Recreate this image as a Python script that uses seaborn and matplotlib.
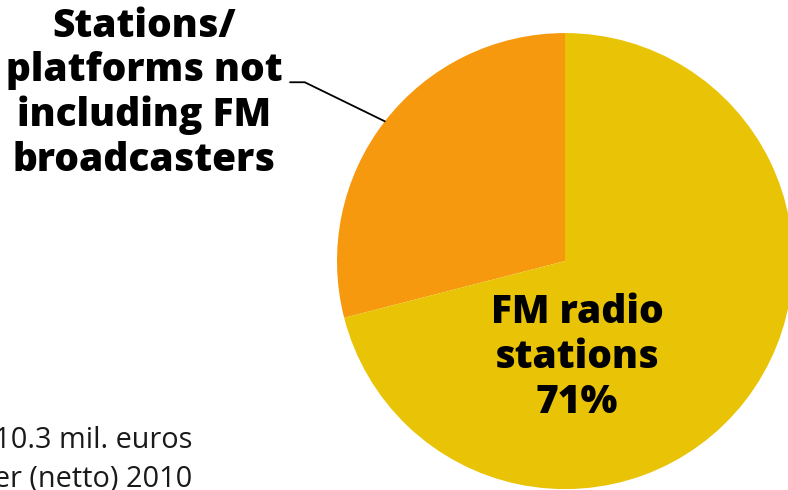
import numpy as np
import matplotlib
matplotlib.use("Agg")
import matplotlib.pyplot as plt
import seaborn as sns

# shares of turnover (netto) 2010
segments = ["Stations/\nplatforms not\nincluding FM\nbroadcasters", "FM radio\nstations"]
shares = [29, 71]
colors = ["#F6990F", "#E9C305"]
note_lines = ["Total: 10.3 mil. euros", "Turnover (netto) 2010"]

sns.set_theme(style="white")
plt.rcParams["font.family"] = ["Open Sans", "DejaVu Sans"]

fig = plt.figure(figsize=(7.88, 4.90), dpi=100)
ax = fig.add_axes([0, 0, 1, 1])

wedges, _ = ax.pie(shares, colors=colors, startangle=90, counterclock=True,
                   radius=1.0, wedgeprops=dict(linewidth=0))
ax.set_aspect("auto")
ax.set_xlim(-2.478, 0.978)
ax.set_ylim(-1.004, 1.145)
ax.axis("off")

# label with leader line for the small wedge
w = wedges[0]
mid = np.deg2rad((w.theta1 + w.theta2) / 2)
ax.annotate(segments[0], xy=(np.cos(mid), np.sin(mid)), xytext=(-1.845, 0.735),
            ha="center", va="center", fontsize=28, fontweight="heavy",
            linespacing=1.18, color="black",
            arrowprops=dict(arrowstyle="-", color="black", lw=1.3,
                            connectionstyle="angle,angleA=0,angleB=-26,rad=0",
                            relpos=(1.0, 0.565), shrinkA=3, shrinkB=0))

# label inside the large wedge
ax.text(0.053, -0.421, f"{segments[1]}\n{shares[1]}%", ha="center", va="center",
        fontsize=28, fontweight="heavy", linespacing=1.2, color="black")

# note at bottom left (cropped in the original)
fig.text(192 / 788, 1 - 440 / 490, note_lines[0], ha="right", va="center",
         fontsize=20.8, color="#1a1a1a")
fig.text(192 / 788, 1 - 479 / 490, note_lines[1], ha="right", va="center",
         fontsize=20.8, color="#1a1a1a")

fig.savefig("out.png", dpi=100)
